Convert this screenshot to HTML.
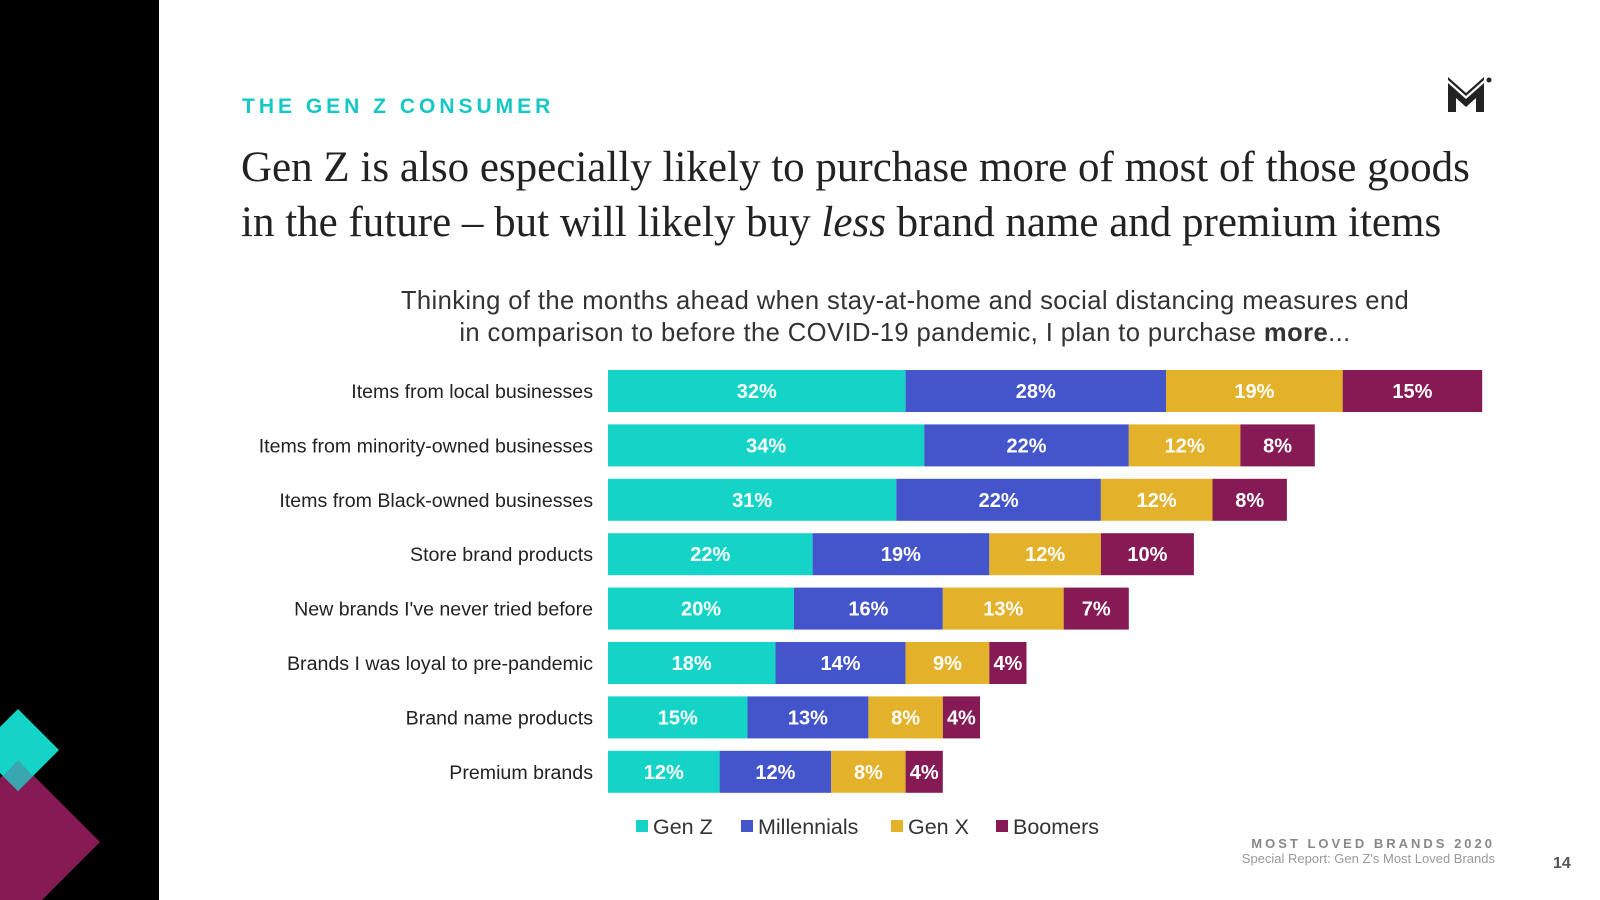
<!DOCTYPE html>
<html><head><meta charset="utf-8"><style>
html,body{margin:0;width:1600px;height:900px;overflow:hidden}
body{background:#fff;position:relative;font-family:"Liberation Sans",sans-serif}
.abs{position:absolute}
</style></head><body>
<div class="abs" style="left:0;top:0;width:159px;height:900px;background:#000"></div>
<svg class="abs" style="left:0;top:0" width="159" height="900">
<polygon points="18,760 100,842 18,924 -64,842" fill="#861a55"/>
<polygon points="18,709 59,750 18,791 -23,750" fill="#14d4c8"/>
<polygon points="18,760 33,776 18,791 3,776" fill="#3aa6b0"/>
</svg>
<div class="abs" style="left:242px;top:95px;font-size:21px;font-weight:bold;letter-spacing:4px;color:#14c8c4">THE GEN Z CONSUMER</div>
<div class="abs" style="left:241px;top:140px;width:1320px;font-family:'Liberation Serif',serif;font-size:43px;line-height:55px;color:#222;white-space:nowrap">Gen Z is also especially likely to purchase more of most of those goods<br>in the future – but will likely buy <i>less</i> brand name and premium items</div>
<svg class="abs" style="left:1448px;top:77px" width="44" height="36">
<polygon points="0,6 18,22 36,6 36,35 28,35 28,21 18,30 8,21 8,35 0,35" fill="#222"/>
<polygon points="0,0 18,16 36,0 36,3 18,19 0,3" fill="#222"/>
<circle cx="41" cy="3" r="2.5" fill="#222"/>
</svg>
<div class="abs" style="left:305px;top:285px;width:1200px;text-align:center;font-size:25.6px;letter-spacing:0.4px;line-height:32px;color:#333;white-space:nowrap">Thinking of the months ahead when stay-at-home and social distancing measures end<br>in comparison to before the COVID-19 pandemic, I plan to purchase <b>more</b>...</div>
<svg class="abs" id="chart" style="left:0;top:0" width="1600" height="900"></svg>
<div class="abs" style="right:105px;top:836px;font-size:13px;font-weight:bold;letter-spacing:3px;color:#888">MOST LOVED BRANDS 2020</div>
<div class="abs" style="right:105px;top:851px;font-size:13px;color:#999">Special Report: Gen Z's Most Loved Brands</div>
<div class="abs" style="left:1553px;top:855px;font-size:16px;font-weight:bold;color:#555">14</div>
<script>
const categories=["Items from local businesses","Items from minority-owned businesses","Items from Black-owned businesses","Store brand products","New brands I've never tried before","Brands I was loyal to pre-pandemic","Brand name products","Premium brands"];
const seriesNames=["Gen Z","Millennials","Gen X","Boomers"];
const genZ=[32,34,31,22,20,18,15,12];
const millennials=[28,22,22,19,16,14,13,12];
const genX=[19,12,12,12,13,9,8,8];
const boomers=[15,8,8,10,7,4,4,4];
const colors=["#14d4c8","#4455cc","#e3b22a","#861a55"];
const svg=document.getElementById('chart');
const NS="http://www.w3.org/2000/svg";
const x0=608,pxPer=9.3,y0=391,step=54.4,bh=42;
const xs=v=>v*pxPer;
const ys=i=>y0+i*step;
const series=[genZ,millennials,genX,boomers];
categories.forEach((c,i)=>{
  const t=document.createElementNS(NS,'text');
  t.setAttribute('x',593);t.setAttribute('y',ys(i)+7);t.setAttribute('text-anchor','end');
  t.setAttribute('font-size','19.6');t.setAttribute('fill','#222');t.textContent=c;
  
  
  svg.appendChild(t);
  let x=x0;
  series.forEach((s,k)=>{
    const w=xs(s[i]);
    const r=document.createElementNS(NS,'rect');
    r.setAttribute('x',x);r.setAttribute('y',ys(i)-bh/2);r.setAttribute('width',w);r.setAttribute('height',bh);r.setAttribute('fill',colors[k]);
    
    
    svg.appendChild(r);
    const l=document.createElementNS(NS,'text');
    l.setAttribute('x',x+w/2);l.setAttribute('y',ys(i)+7);l.setAttribute('text-anchor','middle');
    l.setAttribute('font-size','20');l.setAttribute('font-weight','bold');l.setAttribute('fill','#fff');l.textContent=s[i]+'%';
    
    
    svg.appendChild(l);
    x+=w;
  });
});
const legX=[636,741,891,996];
seriesNames.forEach((n,k)=>{
  const r=document.createElementNS(NS,'rect');
  r.setAttribute('x',legX[k]);r.setAttribute('y',820);r.setAttribute('width',12);r.setAttribute('height',12);r.setAttribute('fill',colors[k]);
  
  
  svg.appendChild(r);
  const t=document.createElementNS(NS,'text');
  t.setAttribute('x',legX[k]+17);t.setAttribute('y',834);t.setAttribute('font-size','21.5');t.setAttribute('fill','#333');t.textContent=n;
  
  
  svg.appendChild(t);
});
</script>
</body></html>
